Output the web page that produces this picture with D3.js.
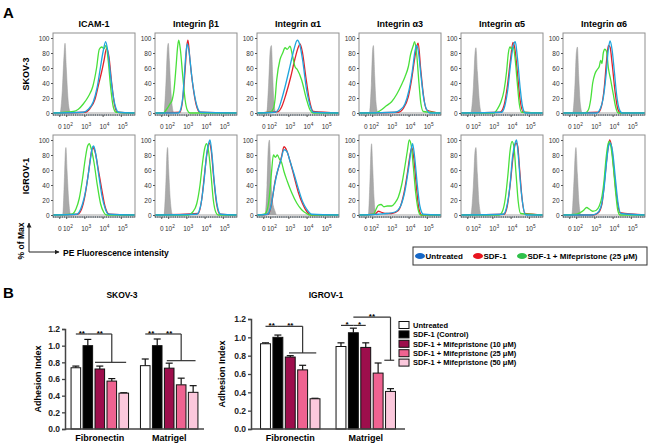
<!DOCTYPE html>
<html><head><meta charset="utf-8">
<script src="https://cdn.jsdelivr.net/npm/d3@7"></script>
<style>body{margin:0;background:#fff}svg{font-family:Arial,"Liberation Sans",sans-serif}</style>
</head><body><svg id="c" width="650" height="445"></svg>
<script>
// ---------- DATA : panel A (flow cytometry histograms) ----------
const markers = ["ICAM-1","Integrin β1","Integrin α1","Integrin α3","Integrin α5","Integrin α6"];
const cellLines = ["SKOV-3","IGROV-1"];
const pctTicks = [0,20,40,60,80,100];
const fluorTickValues = [1.62,2,3,4,5];          // display units (decades); "0" sits left of 10^2
const fluorTickBase = ["0","10","10","10","10"];
const fluorTickExp  = ["","2","3","4","5"];
const fluorDomain = [1.25,5.75];
const histLegend = ["Untreated","SDF-1","SDF-1 + Mifepristone (25 μM)"];

// each entry: flat list [decade, %ofMax, ...] for one marker
const skovIsotype = [
 [1.63,0,1.76,30,1.85,75,1.91,93,1.98,60,2.07,20,2.18,2,2.27,0],
 [1.74,0,1.85,40,1.93,85,1.98,93,2.04,70,2.11,35,2.2,8,2.29,0],
 [1.78,0,1.89,40,1.98,85,2.04,90,2.11,50,2.18,15,2.29,0],
 [1.82,0,1.93,40,2.0,85,2.04,90,2.11,50,2.18,15,2.29,0],
 [1.78,0,1.93,35,2.02,80,2.07,87,2.15,55,2.26,15,2.38,0],
 [1.78,0,1.91,40,1.98,80,2.04,88,2.11,50,2.2,12,2.31,0]];
const skovUntreated = [
 [2.91,1,3.19,5,3.46,15,3.68,35,3.86,62,4.0,82,4.14,95,4.27,80,4.41,50,4.56,22,4.71,6,4.85,1],
 [2.53,0,2.66,5,2.77,20,2.86,50,2.95,80,3.02,92,3.13,80,3.26,50,3.41,25,3.57,8,3.75,1],
 [2.24,1,2.42,5,2.6,18,2.79,35,2.97,53,3.15,72,3.28,85,3.46,97,3.61,90,3.75,71,3.97,31,4.16,10,4.34,1],
 [3.22,1,3.5,4,3.77,12,3.99,30,4.17,55,4.32,82,4.41,90,4.52,80,4.65,50,4.81,18,5.0,3,5.14,0],
 [3.48,1,3.66,10,3.81,30,3.97,65,4.12,90,4.23,95,4.34,75,4.49,35,4.63,8,4.78,0],
 [3.1,0,3.28,5,3.46,20,3.61,50,3.74,85,3.83,96,3.94,85,4.07,55,4.19,25,4.34,5,4.49,0]];
const skovSDF1 = [
 [3.0,1,3.28,6,3.55,18,3.77,40,3.92,55,4.05,70,4.19,86,4.32,75,4.47,40,4.62,12,4.78,1],
 [2.62,1,2.8,25,2.91,60,3.0,90,3.06,97,3.17,70,3.31,40,3.5,12,3.72,1],
 [2.42,2,2.6,8,2.84,25,3.1,48,3.33,72,3.52,88,3.61,92,3.75,80,3.93,48,4.12,18,4.34,2],
 [3.41,1,3.68,6,3.96,22,4.14,45,4.29,70,4.41,88,4.5,93,4.63,60,4.78,25,4.96,4],
 [3.39,1,3.61,10,3.79,35,3.97,72,4.1,94,4.21,85,4.34,55,4.49,18,4.67,1],
 [3.19,1,3.37,10,3.52,35,3.64,70,3.74,90,3.83,88,3.95,65,4.1,30,4.26,5,4.41,0]];
const skovMife = [
 [2.37,2,2.64,5,2.91,12,3.19,22,3.43,35,3.64,60,3.79,85,3.92,88,4.05,86,4.16,90,4.28,70,4.41,35,4.56,8,4.71,1],
 [1.71,0,1.89,5,2.07,12,2.2,18,2.29,30,2.4,60,2.49,88,2.55,97,2.64,85,2.77,50,2.9,18,3.02,4,3.17,0],
 [1.96,1,2.15,6,2.24,18,2.33,44,2.51,71,2.66,80,2.79,87,2.91,85,3.06,89,3.21,75,3.33,62,3.46,58,3.7,44,3.97,18,4.16,4,4.34,0],
 [2.13,0,2.4,3,2.77,10,3.04,15,3.32,25,3.59,38,3.77,48,3.96,62,4.08,78,4.23,90,4.3,95,4.41,80,4.54,40,4.65,12,4.78,2],
 [3.06,0,3.24,5,3.43,14,3.61,30,3.75,55,3.85,80,3.94,88,4.03,85,4.12,88,4.23,70,4.34,40,4.45,12,4.58,1],
 [2.46,0,2.64,4,2.77,18,2.88,40,3.0,52,3.13,58,3.24,62,3.32,70,3.39,66,3.46,80,3.55,85,3.64,82,3.74,60,3.86,45,4.01,25,4.14,8,4.28,0]];
const igrovIsotype = [
 [1.78,0,1.87,45,1.93,85,1.96,90,2.02,60,2.11,20,2.22,0],
 [1.74,0,1.85,45,1.91,85,1.94,90,2.0,60,2.09,20,2.22,0],
 [1.69,0,1.8,40,1.87,90,1.93,100,2.0,60,2.07,25,2.15,12,2.24,5,2.33,0],
 [1.76,0,1.85,45,1.91,88,1.94,95,2.0,65,2.07,25,2.18,0],
 [1.78,0,1.93,40,2.02,85,2.07,90,2.15,55,2.24,15,2.37,0],
 [1.73,0,1.85,45,1.93,85,1.96,90,2.04,55,2.13,15,2.24,0]];
const igrovUntreated = [
 [2.55,1,2.77,8,2.95,22,3.13,45,3.28,70,3.39,88,3.48,92,3.59,82,3.75,55,3.94,25,4.12,8,4.3,1],
 [3.54,1,3.75,12,3.94,45,4.08,80,4.19,95,4.27,100,4.38,80,4.5,45,4.67,12,4.85,1],
 [1.82,1,2.0,10,2.18,35,2.37,58,2.55,72,2.73,87,2.88,85,3.06,72,3.28,55,3.52,35,3.75,18,3.97,8,4.25,1],
 [2.31,1,2.77,2,3.22,4,3.53,12,3.77,32,3.97,62,4.12,88,4.19,95,4.3,78,4.45,40,4.59,12,4.78,1],
 [3.57,1,3.75,10,3.94,40,4.08,78,4.21,95,4.3,100,4.39,80,4.52,40,4.67,10,4.81,0],
 [2.82,0,3.1,2,3.32,10,3.5,35,3.64,70,3.75,92,3.84,96,3.97,85,4.12,50,4.26,18,4.43,2]];
const igrovSDF1 = [
 [2.59,1,2.82,8,3.0,25,3.19,55,3.33,80,3.43,90,3.55,85,3.74,60,3.92,35,4.1,12,4.34,1],
 [3.63,2,3.81,20,3.97,55,4.12,85,4.23,96,4.34,85,4.47,50,4.63,15,4.81,1],
 [1.87,1,2.05,15,2.24,45,2.42,62,2.6,78,2.73,91,2.88,86,3.06,72,3.28,52,3.52,30,3.75,15,4.0,4,4.25,0],
 [2.13,1,2.31,5,2.44,4,2.68,2,3.04,2,3.41,6,3.68,25,3.9,55,4.05,80,4.15,90,4.26,75,4.41,35,4.54,8,4.69,0],
 [3.61,1,3.79,12,3.97,45,4.12,80,4.27,96,4.36,92,4.47,60,4.6,22,4.76,2],
 [2.91,0,3.19,3,3.39,15,3.55,50,3.7,85,3.81,100,3.92,90,4.04,60,4.19,25,4.38,3]];
const igrovMife = [
 [2.27,1,2.51,8,2.69,22,2.88,50,3.02,75,3.15,92,3.24,95,3.35,88,3.5,70,3.68,40,3.86,15,4.05,3,4.19,0],
 [3.08,0,3.32,4,3.54,15,3.72,40,3.86,70,3.97,88,4.08,95,4.19,85,4.32,55,4.45,20,4.6,3,4.72,0],
 [1.65,1,1.82,8,1.93,25,2.04,55,2.15,80,2.26,77,2.37,80,2.47,75,2.6,70,2.73,58,2.91,45,3.15,30,3.43,16,3.7,7,3.97,2,4.16,0],
 [2.04,1,2.16,6,2.31,13,2.46,14,2.62,11,2.8,12,3.04,12,3.22,16,3.41,24,3.59,40,3.77,65,3.9,85,4.01,100,4.12,92,4.23,65,4.36,30,4.49,8,4.63,0],
 [3.35,0,3.54,6,3.68,22,3.83,55,3.94,85,4.05,98,4.16,90,4.27,55,4.39,18,4.52,2],
 [2.0,1,2.18,3,2.37,6,2.55,10,2.69,8,2.88,5,3.06,6,3.24,12,3.39,25,3.5,45,3.61,75,3.7,92,3.79,98,3.9,88,4.01,65,4.14,30,4.26,6,4.38,0]];

// ---------- DATA : panel B (adhesion bars) ----------
const substrates = ["Fibronectin","Matrigel"];
const barSeries = ["Untreated","SDF-1 (Control)","SDF-1 + Mifepristone (10 μM)","SDF-1 + Mifepristone (25 μM)","SDF-1 + Mifepristone (50 μM)"];
const adhesionTicks = [0,0.2,0.4,0.6,0.8,1.0,1.2];
const skovMeans = [[0.735,1.00,0.72,0.575,0.43],[0.76,1.00,0.73,0.53,0.44]];
const skovErrs  = [[0.02,0.075,0.035,0.03,0.005],[0.08,0.08,0.06,0.08,0.08]];
const igrovMeans = [[0.93,1.00,0.785,0.645,0.33],[0.90,1.05,0.89,0.61,0.41]];
const igrovErrs  = [[0.01,0.025,0.015,0.05,0.005],[0.04,0.05,0.05,0.11,0.03]];
// significance: [substrate, barA, barB, level, label, dropLevel, spanFrom, spanTo]
const skovSig = [
 [0,0,1,1.14,"**"],[0,1,3,1.14,"**",0.80,1.6,4.2],
 [1,0,1,1.14,"**"],[1,1,3,1.14,"**",0.82,1.8,4.2]];
const igrovSig = [
 [0,0,1,1.12,"**"],[0,1,3,1.12,"**",0.83,1.9,4.1],
 [1,0,1,1.13,"*"],[1,1,2,1.13,"*"],[1,1,4,1.22,"**",0.75,3.5,4.3]];

// ---------- STYLE ----------
const lineColors = {untreated:"#1ea5dd", sdf:"#e2222b", mife:"#48e03a"};
const legendDots = ["#1667c6","#e8141e","#2fc04a"];
const barColors = ["#ffffff","#000000","#9d0e4c","#ef6391","#fbc8dc"];

const svg = d3.select("#c");
const pairs = a => d3.range(0, a.length, 2).map(i => [a[i], a[i+1]]);

// ---------- PANEL A ----------
svg.append("text").attr("x",3).attr("y",18).attr("font-size",15).attr("font-weight","bold").text("A");
const A = {left:53, step:102, w:82, h:82, tops:[33,135]};
const sets = [
 {iso:skovIsotype, un:skovUntreated, sdf:skovSDF1, mife:skovMife},
 {iso:igrovIsotype, un:igrovUntreated, sdf:igrovSDF1, mife:igrovMife}];

sets.forEach((S, r) => {
  const by = A.tops[r];
  svg.append("text").attr("transform",`translate(29,${by+41}) rotate(-90)`)
    .attr("text-anchor","middle").attr("font-size",9).attr("font-weight","bold").text(cellLines[r]);
  markers.forEach((m, c) => {
    const bx = A.left + c*A.step;
    const x = d3.scaleLinear().domain(fluorDomain).range([bx, bx+A.w]);
    const y = d3.scaleLinear().domain([0,100]).range([by+80, by+5]);
    const g = svg.append("g");
    const cid = `clip${r}_${c}`;
    g.append("clipPath").attr("id",cid).append("rect").attr("x",bx).attr("y",by).attr("width",A.w).attr("height",A.h);
    const pg = g.append("g").attr("clip-path",`url(#${cid})`);
    const full = a => [[fluorDomain[0],0], ...pairs(a), [fluorDomain[1],0]];
    pg.append("path").datum(full(S.iso[c]))
      .attr("d", d3.area().x(d=>x(d[0])).y0(y(0)).y1(d=>y(d[1])).curve(d3.curveMonotoneX))
      .attr("fill","#a9a9a9").attr("stroke","#9a9a9a").attr("stroke-width",0.5);
    const ln = d3.line().x(d=>x(d[0])).y(d=>y(d[1])).curve(d3.curveMonotoneX);
    [[S.sdf,lineColors.sdf],[S.mife,lineColors.mife],[S.un,lineColors.untreated]].forEach(([arr,col]) => {
      pg.append("path").datum(full(arr[c])).attr("d", ln).attr("fill","none")
        .attr("stroke",col).attr("stroke-width",1.3).attr("stroke-linejoin","round");
    });
    // frame
    g.append("rect").attr("x",bx).attr("y",by).attr("width",A.w).attr("height",A.h)
      .attr("fill","none").attr("stroke","#8f8f8f").attr("stroke-width",1);
    g.append("line").attr("x1",bx).attr("x2",bx+A.w).attr("y1",by+A.h).attr("y2",by+A.h)
      .attr("stroke","#2a3a4a").attr("stroke-width",1.2).attr("stroke-dasharray","1.2,1");
    // y axis
    const ya = g.append("g").attr("transform",`translate(${bx},0)`)
      .call(d3.axisLeft(y).tickValues(pctTicks).tickSize(2).tickPadding(1.5));
    ya.select(".domain").remove();
    ya.selectAll("text").attr("font-size",6.5).attr("fill","#333").attr("font-family","Arial, Liberation Sans");
    ya.selectAll("line").attr("stroke","#555");
    // x tick labels
    fluorTickValues.forEach((v,i) => {
      g.append("line").attr("x1",x(v)).attr("x2",x(v)).attr("y1",by+A.h).attr("y2",by+A.h+2).attr("stroke","#555");
      const t = g.append("text").attr("x", x(v) + (fluorTickExp[i] ? 1.3 : 0)).attr("y", by+A.h+14)
        .attr("text-anchor","middle").attr("font-size",6.5).attr("fill","#333");
      t.append("tspan").text(fluorTickBase[i]);
      if (fluorTickExp[i]) t.append("tspan").attr("dy",-3).attr("font-size",4.8).text(fluorTickExp[i]);
    });
    if (r === 0) {
      svg.append("text").attr("x",bx+A.w/2).attr("y",27).attr("text-anchor","middle")
        .attr("font-size",9).attr("font-weight","bold").text(m);
    }
  });
});

// axis hint
svg.append("defs").append("marker").attr("id","arr").attr("viewBox","0 0 10 10").attr("refX",9).attr("refY",5)
  .attr("markerWidth",5).attr("markerHeight",5).attr("orient","auto")
  .append("path").attr("d","M0,0L10,5L0,10z").attr("fill","#222");
svg.append("line").attr("x1",29).attr("y1",252).attr("x2",29).attr("y2",223).attr("stroke","#222").attr("stroke-width",1).attr("marker-end","url(#arr)");
svg.append("line").attr("x1",29).attr("y1",252).attr("x2",59).attr("y2",252).attr("stroke","#222").attr("stroke-width",1).attr("marker-end","url(#arr)");
svg.append("text").attr("transform","translate(24,241) rotate(-90)").attr("text-anchor","middle")
  .attr("font-size",8.5).attr("font-weight","bold").text("% of Max");
svg.append("text").attr("x",63).attr("y",255.5).attr("font-size",8.5).attr("font-weight","bold").text("PE Fluorescence intensity");

// legend A
const lg = svg.append("g");
lg.append("rect").attr("x",413).attr("y",247).attr("width",234).attr("height",18).attr("fill","#fff").attr("stroke","#333").attr("stroke-width",1);
const lgX = [420, 478, 522];
histLegend.forEach((t,i) => {
  lg.append("ellipse").attr("cx",lgX[i]).attr("cy",256).attr("rx",5).attr("ry",3).attr("fill",legendDots[i]);
  lg.append("text").attr("x",lgX[i]+5.5).attr("y",259).attr("font-size",8).attr("font-weight","bold").text(t);
});

// ---------- PANEL B ----------
svg.append("text").attr("x",3).attr("y",298).attr("font-size",15).attr("font-weight","bold").text("B");

function barChart(o) {
  const g = svg.append("g");
  const yS = d3.scaleLinear().domain([0,1.2]).range([429, o.top]);
  const x0 = d3.scaleBand().domain(substrates).range(o.xr).paddingInner(o.pi).paddingOuter(o.po);
  const x1 = d3.scaleBand().domain(d3.range(barSeries.length)).range([0, x0.bandwidth()]).paddingInner(0.2).paddingOuter(0.1);
  const cx = (s,i) => x0(substrates[s]) + x1(0) + i*x1.step() + x1.bandwidth()/2;
  g.append("text").attr("x",o.titleX).attr("y",298).attr("text-anchor","middle").attr("font-size",8.5).attr("font-weight","bold").text(o.title);
  // bars
  o.means.forEach((row,s) => row.forEach((v,i) => {
    const e = o.errs[s][i], xc = cx(s,i);
    g.append("line").attr("x1",xc).attr("x2",xc).attr("y1",yS(v)).attr("y2",yS(v+e)).attr("stroke","#111").attr("stroke-width",1.2);
    g.append("line").attr("x1",xc-3.5).attr("x2",xc+3.5).attr("y1",yS(v+e)).attr("y2",yS(v+e)).attr("stroke","#111").attr("stroke-width",1.2);
    g.append("rect").attr("x",xc-x1.bandwidth()/2).attr("y",yS(v)).attr("width",x1.bandwidth()).attr("height",yS(0)-yS(v))
      .attr("fill",barColors[i]).attr("stroke","#111").attr("stroke-width",1);
  }));
  // axes
  const ya = g.append("g").attr("transform",`translate(${o.xr[0]},0)`)
    .call(d3.axisLeft(yS).tickValues(adhesionTicks).tickFormat(d3.format(".1f")).tickSize(3).tickPadding(2));
  ya.select(".domain").attr("stroke","#444").attr("stroke-width",1.5);
  ya.selectAll("line").attr("stroke","#444").attr("stroke-width",1.3);
  ya.selectAll("text").attr("font-size",8.5).attr("font-weight","bold").attr("fill","#222").attr("font-family","Arial, Liberation Sans");
  g.append("line").attr("x1",o.xr[0]).attr("x2",o.xr[1]).attr("y1",yS(0)).attr("y2",yS(0)).attr("stroke","#444").attr("stroke-width",1.5);
  substrates.forEach(s => g.append("text").attr("x",x0(s)+x0.bandwidth()/2).attr("y",441).attr("text-anchor","middle")
     .attr("font-size",9).attr("font-weight","bold").text(s));
  g.append("text").attr("transform",`translate(${o.ylabX},${(429+o.top)/2}) rotate(-90)`).attr("text-anchor","middle")
    .attr("font-size",9).attr("font-weight","bold").text("Adhesion Index");
  // significance
  o.sig.forEach(([s,a,b,lv,lab,drop,f,t]) => {
    const xa = cx(s,a), xb = cx(s,b), yy = yS(lv);
    g.append("line").attr("x1",xa).attr("x2",xb).attr("y1",yy).attr("y2",yy).attr("stroke","#333").attr("stroke-width",1.2);
    g.append("text").attr("x",(xa+xb)/2).attr("y",yy+1.5).attr("text-anchor","middle").attr("font-size",8).attr("font-weight","bold").text(lab);
    if (drop !== undefined) {
      g.append("line").attr("x1",xb).attr("x2",xb).attr("y1",yy).attr("y2",yS(drop)).attr("stroke","#333").attr("stroke-width",1.2);
      g.append("line").attr("x1",cx(s,f)).attr("x2",cx(s,t)).attr("y1",yS(drop)).attr("y2",yS(drop)).attr("stroke","#333").attr("stroke-width",1.2);
    }
  });
}
barChart({title:"SKOV-3", titleX:122, xr:[65,204], top:329, pi:0.137, po:0.07, means:skovMeans, errs:skovErrs, sig:skovSig, ylabX:41});
barChart({title:"IGROV-1", titleX:326, xr:[251,405], top:319, pi:0.18, po:0.11, means:igrovMeans, errs:igrovErrs, sig:igrovSig, ylabX:225});

// legend B
barSeries.forEach((t,i) => {
  const yy = 325 + i*9.4;
  svg.append("rect").attr("x",399).attr("y",yy-3.5).attr("width",10).attr("height",7).attr("fill",barColors[i]).attr("stroke","#111").attr("stroke-width",1);
  svg.append("text").attr("x",413).attr("y",yy+2.8).attr("font-size",7.5).attr("font-weight","bold").text(t);
});
</script></body></html>
